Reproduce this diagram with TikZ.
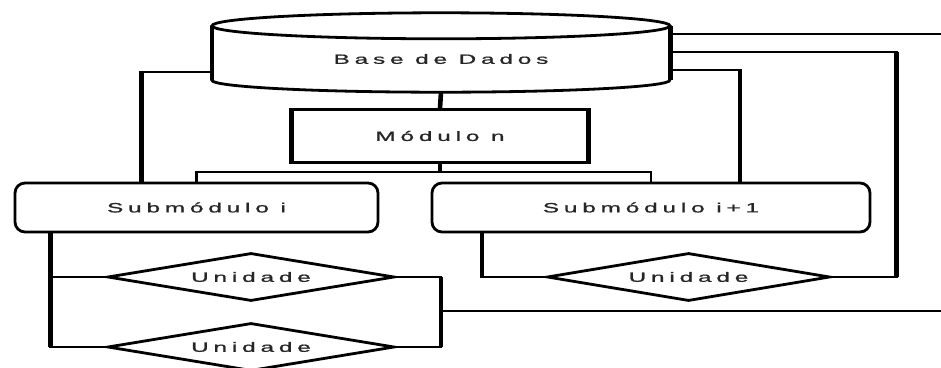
\documentclass[tikz,border=0pt]{standalone}
\usepackage{graphicx}
\usepackage{fontspec}
\newfontfamily\lblfont[LetterSpace=20,FakeBold=0.8]{Liberation Sans}
\newcommand{\wide}[1]{\scalebox{1.8}[1]{#1}}
\usetikzlibrary{shapes.geometric}

\tikzset{
  wire/.style={line width=2.6pt},
  riser/.style={line width=4.6pt},
  rim/.style={line width=2.8pt},
  lbl/.style={text=black!85, font=\lblfont\fontsize{13.5}{16}\selectfont},
  box/.style={draw, rim, fill=white, inner sep=0pt, lbl},
  dbbox/.style={inner sep=0pt, minimum width=458pt, minimum height=66pt, lbl},
  modbox/.style={box, minimum width=295pt, minimum height=53pt},
  subbox/.style={box, rounded corners=10pt, minimum height=49pt},
  unitbox/.style={box, diamond, aspect=6, minimum width=287pt, minimum height=48pt}
}

\begin{document}
\begin{tikzpicture}[x=1pt,y=-1pt]
\useasboundingbox (0,0) rectangle (941,367);
% nodes
\node[dbbox] (db) at (441,59) {\wide{Base de Dados}};
\node[modbox] (mod) at (440,136) {\wide{Módulo n}};
\node[subbox, minimum width=363pt] (subA) at (196.5,207.5) {\wide{Submódulo i}};
\node[subbox, minimum width=438pt] (subB) at (651,207.5) {\wide{Submódulo i+1}};
\node[unitbox] (uA1) at (251,277) {\wide{Unidade}};
\node[unitbox] (uA2) at (251,347) {\wide{Unidade}};
\node[unitbox, minimum width=283pt] (uB) at (688.5,277) {\wide{Unidade}};
% cylinder outline
\draw[rim] (db.north west) -- ([yshift=12pt]db.south west)
  arc[start angle=180, end angle=360, x radius=229pt, y radius=12pt] -- (db.north east);
\draw[riser] (db.north west) -- ([yshift=12pt]db.south west);
\draw[riser] (db.north east) -- ([yshift=12pt]db.south east);
\draw[rim, fill=white] (db.north) ellipse[x radius=229pt, y radius=13pt];
\draw[riser] (mod.north west) -- (mod.south west);
\draw[riser] (mod.north east) -- (mod.south east);
% trunk
\coordinate (split) at (440,172);
\draw[riser] (db.south) -- (mod.north);
\draw[riser] (mod.south) -- (split);
\draw[wire] (subA.north) |- (split) -| (subB.north);
% branches from the database
\draw[wire] ([yshift=-13pt]db.west) -| ([xshift=-55pt]subA.north);
\draw[riser] ([xshift=-55pt]subA.north) -- ++(0,-111);
\draw[wire] ([yshift=-11pt]db.east) -| ([xshift=89pt]subB.north);
\draw[riser] ([xshift=89pt]subB.north) -- ++(0,-113);
\coordinate (outA) at (941,34);
\draw[wire] (outA -| db.east) -- (outA);
\coordinate (railB) at ([xshift=65pt]uB.east);
\draw[wire] ([yshift=7pt]db.east) -| (railB) -- (uB.east);
\draw[riser] (railB) -- ++(0,-225);
% units
\draw[wire] ([xshift=-169pt]subB.south) |- (uB.west);
\draw[riser] ([xshift=-169pt]subB.south) -- ++(0,45);
\coordinate (railA) at ([xshift=-146pt]subA.south);
\draw[wire] (railA) |- (uA2.west);
\draw[riser] (railA) -- (railA |- uA2.west);
\draw[wire] (uA1.west) -- (uA1.west -| railA);
\coordinate (jA) at ([xshift=45pt]uA1.east);
\draw[wire] (uA1.east) -- (jA) |- (uA2.east);
\draw[riser] (jA) -- (jA |- uA2.east);
\coordinate (outB) at (941,311);
\draw[wire] (outB -| jA) -- (outB);
\end{tikzpicture}
\end{document}
